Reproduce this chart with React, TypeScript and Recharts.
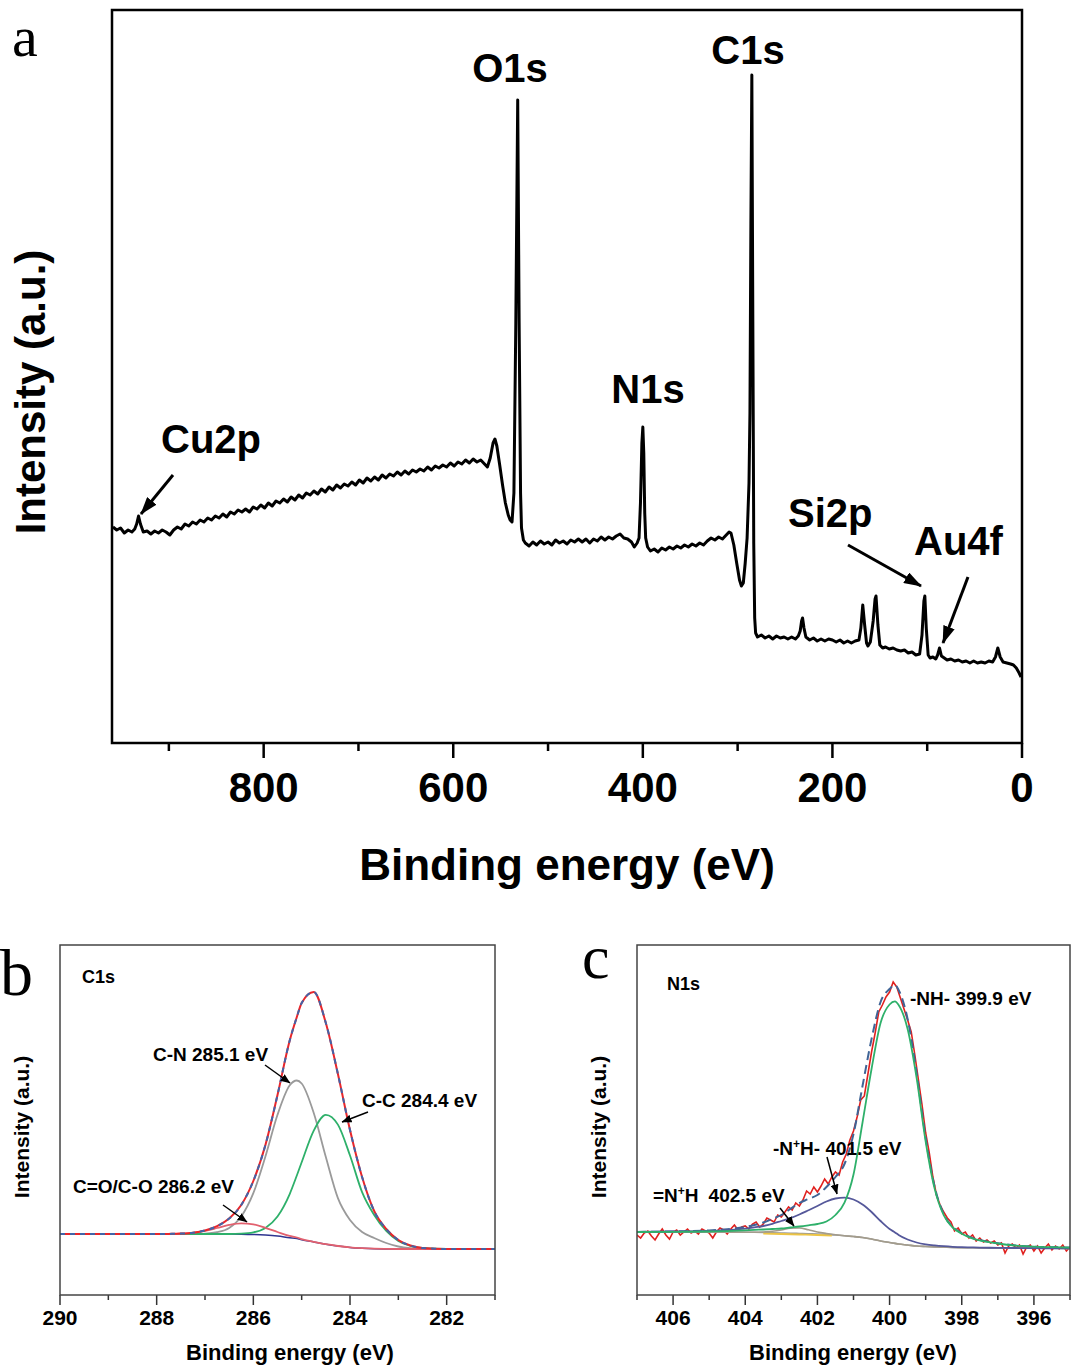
import React from 'react';
import { LineChart, Line, XAxis, YAxis } from 'recharts';

const FONT = "'Liberation Sans', Arial, Helvetica, sans-serif";
const SERIF = "'Liberation Serif', 'Times New Roman', serif";

// --- (a) survey spectrum: [binding energy eV, intensity] ---
const SURVEY: number[][] = [
  [959, 216], [955, 213], [951, 215], [947, 210], [943, 213], [939, 211], [936, 214], [934, 219], [932, 227], [930, 219],
  [927, 211], [923, 212], [919, 209], [915, 212], [911, 210], [907, 213], [903, 211], [899, 208], [895, 213], [891, 216],
  [887, 214], [883, 219], [879, 217], [875, 221], [871, 219], [867, 223], [863, 221], [859, 225], [855, 223], [851, 227],
  [847, 225], [843, 229], [839, 226], [835, 231], [831, 229], [827, 233], [823, 231], [819, 234], [815, 231], [811, 236],
  [807, 234], [803, 238], [799, 235], [795, 240], [791, 237], [787, 242], [783, 240], [779, 244], [775, 241], [771, 246],
  [767, 243], [763, 248], [759, 245], [755, 250], [751, 248], [747, 252], [743, 249], [739, 254], [735, 251], [731, 256],
  [727, 253], [723, 258], [719, 255], [715, 259], [711, 257], [707, 261], [703, 258], [699, 263], [695, 260], [691, 265],
  [687, 262], [683, 266], [679, 263], [675, 268], [671, 265], [667, 269], [663, 267], [659, 271], [655, 268], [651, 272],
  [647, 269], [643, 273], [639, 271], [635, 274], [631, 272], [627, 276], [623, 273], [619, 277], [615, 275], [611, 278],
  [607, 276], [603, 280], [599, 277], [595, 281], [591, 279], [587, 283], [583, 280], [579, 284], [575, 281], [571, 283],
  [567, 279], [564, 276], [561, 285], [558, 300], [556, 304], [554, 297], [551, 278], [548, 258], [545, 240], [542, 228],
  [540, 223], [538, 221], [536, 250], [534, 420], [532, 643], [530.5, 420], [529, 250], [528, 215], [526, 203], [524, 200],
  [520, 197], [516, 201], [512, 198], [508, 202], [504, 199], [500, 201], [496, 198], [492, 203], [488, 200], [484, 202],
  [480, 199], [476, 203], [472, 201], [468, 204], [464, 201], [460, 204], [456, 200], [452, 204], [448, 202], [444, 206],
  [440, 203], [436, 206], [432, 204], [428, 207], [424, 209], [420, 205], [416, 204], [412, 201], [409, 196], [406, 200],
  [404, 205], [402.5, 240], [401, 300], [400, 316], [399, 290], [398, 230], [397, 205], [395, 196], [392, 192], [388, 194],
  [384, 191], [380, 195], [376, 193], [372, 196], [368, 194], [364, 197], [360, 195], [356, 198], [352, 196], [348, 199],
  [344, 197], [340, 200], [336, 198], [332, 202], [328, 205], [324, 203], [320, 206], [316, 204], [312, 208], [309, 211],
  [307, 210], [304, 198], [301, 180], [298, 163], [296, 157], [294, 160], [292, 180], [290, 205], [288, 260], [287, 330],
  [286, 520], [285, 668], [284, 430], [283, 200], [282, 125], [281, 110], [279, 106], [275, 108], [271, 105], [267, 107],
  [263, 104], [259, 107], [255, 105], [251, 106], [247, 104], [243, 106], [239, 104], [236, 107], [234, 112], [232.5, 122],
  [231.5, 125], [230, 115], [228, 106], [224, 103], [220, 105], [216, 102], [212, 104], [208, 102], [204, 104], [200, 103],
  [196, 101], [192, 103], [188, 100], [184, 102], [180, 100], [176, 102], [172, 103], [170, 115], [168, 138], [166, 118],
  [164, 100], [162.5, 97], [160, 101], [157, 122], [155, 144], [154, 147], [152, 118], [150, 98], [147, 95], [144, 96],
  [140, 94], [136, 95], [132, 93], [128, 92], [124, 93], [120, 90], [116, 91], [112, 88], [108, 89], [105.5, 108],
  [103.5, 142], [102.5, 147], [101, 115], [99, 88], [97, 85], [94, 86], [91, 84], [89, 88], [87, 95], [85, 87],
  [82, 85], [79, 83], [75, 84], [71, 82], [67, 83], [63, 81], [59, 82], [55, 80], [51, 82], [47, 80],
  [43, 81], [39, 80], [35, 82], [31, 81], [28, 86], [25.5, 95], [23, 86], [20, 81], [16, 80], [12, 79],
  [9, 78], [6, 75], [3, 70], [1, 66],
];
const A_TICKS = [0, 100, 200, 300, 400, 500, 600, 700, 800, 900];
const A_MAJOR = [0, 200, 400, 600, 800];

// --- (b) C1s fit ---
const C1S_E = [290, 289, 288, 287.75, 287.5, 287.25, 287, 286.75, 286.5, 286.25, 286, 285.75, 285.5, 285.25, 285.1, 285, 284.75, 284.5, 284.25, 284, 283.75, 283.5, 283.25, 283, 282.75, 282.5, 282, 281];
const C1S_BG = [61, 61, 61, 61, 61, 61, 61, 61, 60.9, 60.8, 60.5, 59.9, 58.9, 57.3, 56.5, 55.3, 53, 50.8, 49, 47.6, 46.8, 46.3, 46.1, 46, 46, 46, 46, 46];
const C1S_CN = [61, 61, 61, 61, 61, 61.1, 61.4, 62.8, 67.1, 78.6, 101.9, 138.5, 180.2, 209.5, 214.5, 211.5, 182, 138, 96.9, 75, 63, 57, 52, 48.5, 46.8, 46.2, 46, 46];
const C1S_CC = [61, 61, 61, 61, 61, 61, 61, 61, 61, 61.3, 62.6, 67.1, 78.5, 100.7, 119.5, 132.7, 164.4, 180.2, 170.4, 139.5, 102.9, 80, 64, 54, 49, 47, 46, 46];
const C1S_CO = [61, 61, 61, 61.1, 61.4, 62.2, 64.1, 67, 70.1, 71.7, 70.7, 67.2, 63, 59.1, 57.5, 55.9, 53.2, 50.8, 49, 47.6, 46.8, 46.3, 46.1, 46, 46, 46, 46, 46];
const C1S_ENV = [61, 61, 61, 61.1, 61.4, 62.3, 64.5, 68.8, 76.4, 90, 114, 150, 200, 254, 278, 292, 303, 272, 221, 165, 118, 84, 66, 55, 49.5, 47, 46, 46];
const B_TICKS = [281, 282, 283, 284, 285, 286, 287, 288, 289, 290];
const B_MAJOR = [282, 284, 286, 288, 290];

// --- (c) N1s fit ---
const N1S_E = [407, 406, 405, 404.5, 404, 403.75, 403.5, 403.25, 403, 402.75, 402.5, 402.25, 402, 401.75, 401.5, 401.25, 401, 400.75, 400.5, 400.25, 400, 399.85, 399.75, 399.5, 399.25, 399, 398.75, 398.5, 398.25, 398, 397.75, 397.5, 397, 396.5, 396, 395.5, 395];
const N1S_BG = [63, 63, 63, 62.9, 62.8, 62.7, 62.5, 62.2, 62, 61.8, 61.5, 61.2, 61, 60.5, 60, 59.3, 58.5, 57.5, 56, 54, 52.5, 51.6, 51, 50, 49, 48.5, 48.1, 47.8, 47.5, 47.3, 47.2, 47.1, 47, 46.9, 46.8, 46.7, 46.6];
const N1S_NPH2 = [63, 63, 63, 62.9, 62.8, 62.7, 63, 63.7, 65, 66.8, 67, 65.2, 63, 61.5, 60.3, 59.3, 58.5, 57.5, 56, 54, 52.5, 51.6, 51, 50, 49, 48.5, 48.1, 47.8, 47.5, 47.3, 47.2, 47.1, 47, 46.9, 46.8, 46.7, 46.6];
const N1S_NPH = [63, 63.5, 64, 64.9, 66.3, 67.7, 69, 71.2, 74, 76.8, 80.5, 84.7, 89, 93.5, 96.5, 97.3, 95.5, 90.5, 83, 74, 66, 62.6, 60, 55.5, 52.5, 50.7, 49.6, 48.8, 48.2, 47.8, 47.6, 47.4, 47.2, 47, 46.8, 46.7, 46.6];
const N1S_NH = [63, 63.1, 63.5, 63.9, 64.6, 65.1, 65.5, 66, 66.5, 67.5, 68.5, 69.7, 71, 73.5, 80, 92.3, 120.5, 172.5, 226, 272, 290.5, 293.6, 290, 266, 217, 153.5, 106.1, 79.8, 67.5, 61.3, 57.2, 54.6, 51.5, 49.4, 48.3, 47.8, 47.4];
const N1S_ENV = [63, 63.6, 64.5, 65.8, 68, 70, 72.5, 76, 80, 86, 92, 96, 100, 108, 118, 131, 161, 209, 256, 293, 306, 310, 305, 276, 222, 157, 108, 81, 68, 62, 57.6, 55, 51.7, 49.5, 48.3, 47.8, 47.4];
const N1S_Y_E = [403.5, 403, 402.5, 402, 401.6];
const N1S_Y = [61.5, 61, 60.5, 60, 59.5];
const N1S_RAW: number[][] = [
  [407, 60], [406.9, 57], [406.8, 62], [406.7, 64], [406.6, 59], [406.5, 55], [406.4, 61], [406.3, 66], [406.2, 60], [406.1, 56],
  [406, 63], [405.9, 65], [405.8, 60], [405.7, 63], [405.6, 66], [405.5, 62], [405.4, 64], [405.3, 61], [405.2, 66], [405.1, 64],
  [405, 62], [404.9, 57], [404.8, 63], [404.7, 67], [404.6, 65], [404.5, 61], [404.4, 66], [404.3, 70], [404.2, 65], [404.1, 68],
  [404, 69], [403.9, 66], [403.8, 71], [403.7, 73], [403.6, 68], [403.5, 71], [403.4, 77], [403.3, 75], [403.2, 73], [403.1, 80],
  [403, 78], [402.9, 83], [402.8, 88], [402.7, 85], [402.6, 92], [402.5, 89], [402.4, 95], [402.3, 104], [402.2, 101], [402.1, 108],
  [402, 103], [401.9, 109], [401.8, 116], [401.7, 111], [401.6, 118], [401.5, 123], [401.4, 120], [401.3, 133], [401.2, 141], [401.1, 155],
  [401, 164], [400.9, 178], [400.8, 195], [400.7, 199], [400.6, 221], [400.5, 243], [400.4, 262], [400.3, 283], [400.2, 290], [400.1, 298],
  [400, 303], [399.9, 313], [399.8, 308], [399.7, 297], [399.6, 286], [399.5, 275], [399.4, 263], [399.3, 240], [399.2, 215], [399.1, 190],
  [399, 162], [398.9, 142], [398.8, 118], [398.7, 100], [398.6, 90], [398.5, 83], [398.4, 77], [398.3, 73], [398.2, 64], [398.1, 67],
  [398, 61], [397.9, 63], [397.8, 57], [397.7, 60], [397.6, 54], [397.5, 57], [397.4, 53], [397.3, 55], [397.2, 52], [397.1, 54],
  [397, 50], [396.9, 52], [396.8, 42], [396.7, 49], [396.6, 51], [396.5, 47], [396.4, 50], [396.3, 41], [396.2, 48], [396.1, 50],
  [396, 44], [395.9, 49], [395.8, 42], [395.7, 47], [395.6, 51], [395.5, 45], [395.4, 49], [395.3, 46], [395.2, 50], [395.1, 44],
  [395, 48],
];
const C_TICKS = [395, 396, 397, 398, 399, 400, 401, 402, 403, 404, 405, 406, 407];
const C_MAJOR = [396, 398, 400, 402, 404, 406];

const pairs = (list: number[][]) => list.map(([e, v]) => ({ e, v }));
const zip = (es: number[], vs: number[]) => es.map((e, i) => ({ e, v: vs[i] }));

// custom tick: draws major/minor tick line plus label for majors
const makeTick = (majors: number[], major: number, minor: number, fontSize: number, gap: number, color: string, sw: number) =>
  (props: any) => {
    const { x, y, payload } = props;
    const axisY = y - major;
    const isMajor = majors.includes(payload.value);
    return (
      <g>
        <line x1={x} x2={x} y1={axisY} y2={axisY + (isMajor ? major : minor)} stroke={color} strokeWidth={sw} />
        {isMajor && (
          <text x={x} y={axisY + gap} textAnchor="middle" fontFamily={FONT} fontWeight="bold" fontSize={fontSize} fill="#000">
            {payload.value}
          </text>
        )}
      </g>
    );
  };

const tickA = makeTick(A_MAJOR, 15, 8, 42, 59, '#000', 2.5);
const tickB = makeTick(B_MAJOR, 10, 5, 21, 30, '#333', 1.5);
const tickC = makeTick(C_MAJOR, 10, 5, 21, 30, '#333', 1.5);

const lineProps = { dot: false, isAnimationActive: false, dataKey: 'v' } as const;

const App: React.FC = () => {
  const survey = pairs(SURVEY);
  const label = { fontFamily: FONT, fontWeight: 'bold' as const, fill: '#000' };

  return (
    <div style={{ position: 'absolute', left: 0, top: 0, width: 1071, height: 1369, background: '#fff', overflow: 'hidden' }}>
      {/* panel a */}
      <div style={{ position: 'absolute', left: 0, top: 0 }}>
        <LineChart width={1071} height={900} margin={{ top: 10, right: 49, bottom: 97, left: 112 }}>
          <XAxis type="number" dataKey="e" domain={[0, 960]} reversed ticks={A_TICKS} interval={0}
            tickLine={false} axisLine={false} tickSize={15} tickMargin={0} height={60} tick={tickA} allowDataOverflow />
          <YAxis type="number" domain={[0, 733]} hide allowDataOverflow />
          <Line {...lineProps} data={survey} type="linear" stroke="#000" strokeWidth={3} strokeLinejoin="round" />
        </LineChart>
      </div>

      {/* panel b */}
      <div style={{ position: 'absolute', left: 0, top: 930 }}>
        <LineChart width={500} height={439} margin={{ top: 15, right: 5, bottom: 34, left: 60 }}>
          <XAxis type="number" dataKey="e" domain={[281, 290]} reversed ticks={B_TICKS} interval={0}
            tickLine={false} axisLine={false} tickSize={10} tickMargin={0} height={40} tick={tickB} allowDataOverflow />
          <YAxis type="number" domain={[0, 350]} hide allowDataOverflow />
          <Line {...lineProps} data={zip(C1S_E, C1S_BG)} type="monotone" stroke="#2f3590" strokeWidth={1.5} />
          <Line {...lineProps} data={zip(C1S_E, C1S_CN)} type="monotone" stroke="#9a9a9a" strokeWidth={1.8} />
          <Line {...lineProps} data={zip(C1S_E, C1S_CC)} type="monotone" stroke="#2eb06a" strokeWidth={1.8} />
          <Line {...lineProps} data={zip(C1S_E, C1S_CO)} type="monotone" stroke="#e2606e" strokeWidth={1.8} />
          <Line {...lineProps} data={zip(C1S_E, C1S_ENV)} type="monotone" stroke="#e8262b" strokeWidth={2} />
          <Line {...lineProps} data={zip(C1S_E, C1S_ENV)} type="monotone" stroke="#4264a8" strokeWidth={2} strokeDasharray="5 5" />
        </LineChart>
      </div>

      {/* panel c */}
      <div style={{ position: 'absolute', left: 580, top: 930 }}>
        <LineChart width={491} height={439} margin={{ top: 15, right: 1, bottom: 34, left: 57 }}>
          <XAxis type="number" dataKey="e" domain={[395, 407]} reversed ticks={C_TICKS} interval={0}
            tickLine={false} axisLine={false} tickSize={10} tickMargin={0} height={40} tick={tickC} allowDataOverflow />
          <YAxis type="number" domain={[0, 350]} hide allowDataOverflow />
          <Line {...lineProps} data={pairs(N1S_RAW)} type="linear" stroke="#e0201e" strokeWidth={1.6} />
          <Line {...lineProps} data={zip(N1S_E, N1S_ENV)} type="monotone" stroke="#3f6496" strokeWidth={2} strokeDasharray="9 5" />
          <Line {...lineProps} data={zip(N1S_E, N1S_BG)} type="monotone" stroke="#9a9a9a" strokeWidth={1.6} />
          <Line {...lineProps} data={zip(N1S_Y_E, N1S_Y)} type="monotone" stroke="#ecc445" strokeWidth={1.8} />
          <Line {...lineProps} data={zip(N1S_E, N1S_NPH2)} type="monotone" stroke="#a39c8c" strokeWidth={1.6} />
          <Line {...lineProps} data={zip(N1S_E, N1S_NPH)} type="monotone" stroke="#55589a" strokeWidth={1.8} />
          <Line {...lineProps} data={zip(N1S_E, N1S_NH)} type="monotone" stroke="#2eb06a" strokeWidth={1.8} />
        </LineChart>
      </div>

      {/* frames, labels, arrows */}
      <svg width={1071} height={1369} style={{ position: 'absolute', left: 0, top: 0, pointerEvents: 'none' }}>
        <defs>
          <marker id="arrA" markerWidth={18} markerHeight={12} refX={17} refY={6} orient="auto" markerUnits="userSpaceOnUse">
            <path d="M0,0 L18,6 L0,12 z" fill="#000" />
          </marker>
          <marker id="arrB" markerWidth={10} markerHeight={8} refX={9.5} refY={4} orient="auto" markerUnits="userSpaceOnUse">
            <path d="M0,0 L10,4 L0,8 z" fill="#000" />
          </marker>
        </defs>

        <rect x={112} y={10} width={910} height={733} fill="none" stroke="#000" strokeWidth={2.5} />
        <rect x={60} y={945} width={435} height={350} fill="none" stroke="#444" strokeWidth={1.5} />
        <rect x={637} y={945} width={433} height={350} fill="none" stroke="#444" strokeWidth={1.5} />

        {/* panel a text */}
        <text x={12} y={56} fontFamily={SERIF} fontSize={58} fill="#000">a</text>
        <text x={510} y={82} textAnchor="middle" fontSize={40} {...label}>O1s</text>
        <text x={748} y={64} textAnchor="middle" fontSize={40} {...label}>C1s</text>
        <text x={648} y={403} textAnchor="middle" fontSize={40} {...label}>N1s</text>
        <text x={161} y={453} fontSize={40} {...label}>Cu2p</text>
        <text x={788} y={527} fontSize={40} {...label}>Si2p</text>
        <text x={914} y={555} fontSize={40} {...label}>Au4f</text>
        <line x1={173} y1={475} x2={141} y2={514} stroke="#000" strokeWidth={3} markerEnd="url(#arrA)" />
        <line x1={848} y1={545} x2={921} y2={586} stroke="#000" strokeWidth={3} markerEnd="url(#arrA)" />
        <line x1={968} y1={577} x2={943} y2={643} stroke="#000" strokeWidth={3} markerEnd="url(#arrA)" />
        <text x={567} y={880} textAnchor="middle" fontSize={44} {...label}>Binding energy (eV)</text>
        <text transform="translate(45,392) rotate(-90)" textAnchor="middle" fontSize={42} {...label}>Intensity (a.u.)</text>

        {/* panel b text */}
        <text x={0} y={995} fontFamily={SERIF} fontSize={66} fill="#000">b</text>
        <text x={82} y={983} fontSize={18} {...label}>C1s</text>
        <text x={153} y={1061} fontSize={19} {...label}>C-N 285.1 eV</text>
        <text x={362} y={1107} fontSize={19} {...label}>C-C 284.4 eV</text>
        <text x={73} y={1193} fontSize={19} {...label}>C=O/C-O 286.2 eV</text>
        <line x1={265} y1={1065} x2={290} y2={1083} stroke="#000" strokeWidth={1.5} markerEnd="url(#arrB)" />
        <line x1={368} y1={1112} x2={342} y2={1122} stroke="#000" strokeWidth={1.5} markerEnd="url(#arrB)" />
        <line x1={223} y1={1205} x2={247} y2={1222} stroke="#000" strokeWidth={1.5} markerEnd="url(#arrB)" />
        <text x={290} y={1360} textAnchor="middle" fontSize={22} {...label}>Binding energy (eV)</text>
        <text transform="translate(29,1127) rotate(-90)" textAnchor="middle" fontSize={21} {...label}>Intensity (a.u.)</text>

        {/* panel c text */}
        <text x={582} y={978} fontFamily={SERIF} fontSize={62} fill="#000">c</text>
        <text x={667} y={990} fontSize={18} {...label}>N1s</text>
        <text x={910} y={1005} fontSize={19} {...label}>-NH- 399.9 eV</text>
        <text x={773} y={1155} fontSize={19} {...label}>
          -N<tspan dy={-7} fontSize={12}>+</tspan><tspan dy={7}>H- 401.5 eV</tspan>
        </text>
        <text x={653} y={1202} fontSize={19} {...label}>
          =N<tspan dy={-7} fontSize={12}>+</tspan><tspan dy={7}>H</tspan><tspan dx={10}>402.5 eV</tspan>
        </text>
        <line x1={827} y1={1157} x2={837} y2={1194} stroke="#000" strokeWidth={1.5} markerEnd="url(#arrB)" />
        <line x1={780} y1={1208} x2={794} y2={1226} stroke="#000" strokeWidth={1.5} markerEnd="url(#arrB)" />
        <text x={853} y={1360} textAnchor="middle" fontSize={22} {...label}>Binding energy (eV)</text>
        <text transform="translate(606,1127) rotate(-90)" textAnchor="middle" fontSize={21} {...label}>Intensity (a.u.)</text>
      </svg>
    </div>
  );
};

export default App;
